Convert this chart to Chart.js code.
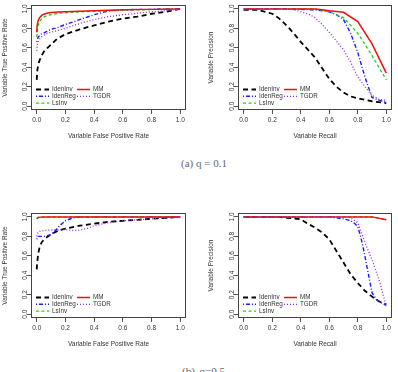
<!DOCTYPE html>
<html>
<head>
<meta charset="utf-8">
<script src="https://cdn.jsdelivr.net/npm/chart.js"></script>
<style>
  html, body { margin:0; padding:0; background:#fff; }
  body { width:398px; height:372px; position:relative; overflow:hidden; }
  canvas { position:absolute; }
  .cap { position:absolute; font-family:"Liberation Serif","DejaVu Serif",serif; font-size:11px; font-weight:400; color:#666; white-space:nowrap; line-height:12px; }
</style>
</head>
<body>
<canvas id="cA" width="198" height="150" style="left:0;top:0"></canvas>
<canvas id="cB" width="200" height="150" style="left:198px;top:0"></canvas>
<canvas id="cC" width="198" height="150" style="left:0;top:208px"></canvas>
<canvas id="cD" width="200" height="150" style="left:198px;top:208px"></canvas>
<div class="cap" id="capA" style="left:181px;top:157px"></div>
<div class="cap" id="capB" style="left:182px;top:365px;word-spacing:2px"></div>
<script>
// ---------- data ----------
const seriesNames = ['IdenInv', 'IdenReg', 'LsInv', 'MM', 'TGDR'];
const tickValues = [0, 0.2, 0.4, 0.6, 0.8, 1.0];
const captions = ['(a) q = 0.1', '(b) q=0.5'];
const xTitleROC = 'Variable False Positive Rate';
const yTitleROC = 'Variable True Positive Rate';
const xTitlePR = 'Variable Recall';
const yTitlePR = 'Variable Precision';

// (a) q = 0.1 : ROC  [false positive rate, true positive rate]
const rocA_IdenInv = [[0,0.27],[0.005,0.38],[0.015,0.45],[0.03,0.51],[0.05,0.56],[0.09,0.62],[0.14,0.69],[0.2,0.74],[0.3,0.79],[0.4,0.83],[0.5,0.87],[0.6,0.9],[0.7,0.92],[0.8,0.95],[0.9,0.97],[1.0,1.0]];
const rocA_IdenReg = [[0,0.66],[0.01,0.71],[0.03,0.74],[0.06,0.76],[0.1,0.79],[0.15,0.81],[0.2,0.84],[0.3,0.89],[0.4,0.94],[0.5,0.98],[0.6,0.99],[0.7,0.995],[0.8,0.995],[0.9,1.0],[1.0,1.0]];
const rocA_LsInv   = [[0,0.71],[0.005,0.78],[0.01,0.83],[0.02,0.87],[0.04,0.91],[0.07,0.93],[0.1,0.94],[0.15,0.955],[0.2,0.96],[0.3,0.97],[0.5,0.98],[0.7,0.99],[1.0,1.0]];
const rocA_MM      = [[0,0.76],[0.003,0.83],[0.01,0.88],[0.02,0.91],[0.04,0.94],[0.07,0.955],[0.1,0.962],[0.15,0.967],[0.2,0.97],[0.4,0.98],[0.6,0.99],[0.8,0.995],[1.0,1.0]];
const rocA_TGDR    = [[0,0.57],[0.005,0.64],[0.015,0.68],[0.03,0.71],[0.06,0.74],[0.1,0.76],[0.15,0.78],[0.2,0.8],[0.3,0.85],[0.4,0.89],[0.5,0.92],[0.6,0.94],[0.7,0.955],[0.8,0.97],[0.9,0.98],[1.0,1.0]];

// (a) q = 0.1 : precision-recall  [recall, precision]
const prA_IdenInv = [[0,0.99],[0.1,0.99],[0.2,0.95],[0.25,0.9],[0.3,0.83],[0.35,0.75],[0.4,0.66],[0.45,0.58],[0.5,0.5],[0.55,0.39],[0.6,0.28],[0.65,0.2],[0.7,0.14],[0.75,0.1],[0.8,0.08],[0.9,0.05],[1.0,0.03]];
const prA_IdenReg = [[0,1],[0.3,1],[0.4,0.995],[0.5,0.99],[0.6,0.97],[0.65,0.94],[0.7,0.89],[0.75,0.75],[0.8,0.55],[0.85,0.3],[0.9,0.09],[0.95,0.06],[1.0,0.04]];
const prA_LsInv   = [[0,1],[0.5,1],[0.6,0.97],[0.7,0.91],[0.8,0.75],[0.9,0.52],[1.0,0.27]];
const prA_MM      = [[0,1],[0.5,1],[0.55,0.99],[0.6,0.98],[0.7,0.965],[0.8,0.87],[0.9,0.64],[1.0,0.34]];
const prA_TGDR    = [[0,1],[0.3,1],[0.35,0.99],[0.4,0.97],[0.45,0.95],[0.5,0.91],[0.55,0.84],[0.6,0.76],[0.65,0.67],[0.7,0.58],[0.75,0.45],[0.8,0.3],[0.85,0.2],[0.9,0.11],[0.95,0.07],[1.0,0.06]];

// (b) q = 0.5 : ROC
const rocB_IdenInv = [[0,0.46],[0.003,0.53],[0.01,0.62],[0.02,0.69],[0.035,0.74],[0.06,0.78],[0.1,0.82],[0.15,0.86],[0.2,0.88],[0.3,0.91],[0.4,0.93],[0.5,0.95],[0.6,0.96],[0.7,0.97],[0.8,0.98],[0.9,0.99],[1.0,1.0]];
const rocB_IdenReg = [[0,0.77],[0.01,0.8],[0.03,0.8],[0.06,0.8],[0.1,0.82],[0.13,0.86],[0.16,0.91],[0.2,0.96],[0.25,0.99],[0.3,1.0],[0.4,1.0],[1.0,1.0]];
const rocB_LsInv   = [[0,0.98],[0.01,0.995],[0.05,1.0],[1.0,1.0]];
const rocB_MM      = [[0,0.98],[0.01,0.995],[0.05,1.0],[1.0,1.0]];
const rocB_TGDR    = [[0,0.8],[0.005,0.83],[0.015,0.85],[0.03,0.855],[0.06,0.86],[0.1,0.865],[0.15,0.865],[0.2,0.87],[0.25,0.86],[0.3,0.865],[0.35,0.88],[0.4,0.91],[0.5,0.94],[0.6,0.96],[0.7,0.97],[0.8,0.98],[0.9,0.99],[1.0,1.0]];

// (b) q = 0.5 : precision-recall
const prB_IdenInv = [[0,1],[0.25,1],[0.3,0.99],[0.35,0.985],[0.4,0.975],[0.45,0.93],[0.5,0.89],[0.55,0.84],[0.6,0.77],[0.65,0.65],[0.7,0.53],[0.75,0.41],[0.8,0.32],[0.85,0.24],[0.9,0.18],[0.95,0.13],[1.0,0.1]];
const prB_IdenReg = [[0,1],[0.6,1],[0.7,0.98],[0.75,0.96],[0.78,0.93],[0.8,0.9],[0.82,0.8],[0.84,0.67],[0.86,0.52],[0.88,0.37],[0.9,0.22],[0.93,0.15],[0.96,0.12],[1.0,0.09]];
const prB_LsInv   = [[0,1],[0.9,1],[1.0,0.97]];
const prB_MM      = [[0,1],[0.9,1],[1.0,0.97]];
const prB_TGDR    = [[0,1],[0.7,1],[0.75,0.99],[0.8,0.94],[0.83,0.82],[0.86,0.7],[0.9,0.56],[0.95,0.35],[1.0,0.08]];

// ---------- styles ----------
const FONT = '"Liberation Sans", Arial, Helvetica, sans-serif';
const TXT = '#333';
const styles = [
  { borderColor:'#000000', borderWidth:1.8, borderDash:[5,3.5], order:4 },
  { borderColor:'#1a1aff', borderWidth:1.4, borderDash:[1,2,4,2], order:3 },
  { borderColor:'#22cc22', borderWidth:1.3, borderDash:[3,2.5], order:2 },
  { borderColor:'#ee1111', borderWidth:1.5, borderDash:[], order:1 },
  { borderColor:'#a020f0', borderWidth:1.3, borderDash:[1,2], order:0 }
];

function makeDatasets(list) {
  return list.map((pts, i) => Object.assign({
    label: seriesNames[i],
    data: pts.map(p => ({ x: p[0], y: p[1] })),
    pointRadius: 0, fill: false, tension: 0, clip: false
  }, styles[i]));
}

const boxPlugin = {
  id: 'rbox',
  afterDraw(chart) {
    const { ctx, chartArea: a } = chart;
    ctx.save();
    ctx.strokeStyle = '#444';
    ctx.lineWidth = 1;
    ctx.setLineDash([]);
    ctx.strokeRect(Math.round(a.left) + 0.5, Math.round(a.top) + 0.5,
                   Math.round(a.right - a.left) - 1, Math.round(a.bottom - a.top) - 1);
    ctx.restore();
  }
};

const insideLegend = {
  id: 'insideLegend',
  afterDraw(chart) {
    const { ctx, chartArea: a } = chart;
    const ds = chart.data.datasets;
    ctx.save();
    ctx.font = '6.3px ' + FONT;
    ctx.textBaseline = 'middle';
    ctx.textAlign = 'left';
    ds.forEach((d, i) => {
      const col = i < 3 ? 0 : 1;
      const row = i < 3 ? i : i - 3;
      const x0 = a.left + (col ? 46 : 5);
      const y = a.bottom - 20.5 + row * 6.8;
      ctx.strokeStyle = d.borderColor;
      ctx.lineWidth = d.borderWidth;
      ctx.setLineDash(d.borderDash || []);
      ctx.beginPath(); ctx.moveTo(x0, y); ctx.lineTo(x0 + 13, y); ctx.stroke();
      ctx.setLineDash([]);
      ctx.fillStyle = TXT;
      ctx.fillText(d.label, x0 + 16, y);
    });
    ctx.restore();
  }
};

function setTicks(s) { s.ticks = tickValues.map(v => ({ value: v })); }

function makeChart(id, lists, xTitle, yTitle, g) {
  return new Chart(document.getElementById(id), {
    type: 'line',
    data: { datasets: makeDatasets(lists) },
    plugins: [boxPlugin, insideLegend],
    options: {
      responsive: false, animation: false, devicePixelRatio: 1,
      layout: { padding: { top: g.top, right: g.right, left: 0, bottom: 0 } },
      plugins: { legend: { display: false }, tooltip: { enabled: false } },
      scales: {
        x: {
          type: 'linear', min: -0.04, max: 1.04,
          afterBuildTicks: setTicks,
          afterFit: s => { s.height = g.xh; },
          border: { display: false },
          grid: { display: true, drawOnChartArea: false, drawTicks: true, tickLength: 4, color: '#555' },
          ticks: { autoSkip: false, maxRotation: 0, color: TXT, padding: g.xtp,
                   font: { size: 6.5, family: FONT }, callback: v => v.toFixed(1) },
          title: { display: true, text: xTitle, color: TXT, font: { size: 6.5, family: FONT },
                   padding: { top: 0, bottom: g.xtb } }
        },
        y: {
          type: 'linear', min: -0.04, max: 1.04,
          afterBuildTicks: setTicks,
          afterFit: s => { s.width = g.yw; },
          border: { display: false },
          grid: { display: true, drawOnChartArea: false, drawTicks: true, tickLength: 4, color: '#555' },
          ticks: { autoSkip: false, minRotation: 90, maxRotation: 90, crossAlign: 'center',
                   color: TXT, padding: g.ytp, font: { size: 6.5, family: FONT },
                   callback: v => v.toFixed(1) },
          title: { display: true, text: yTitle, color: TXT, font: { size: 6.5, family: FONT },
                   padding: { top: g.ytt, bottom: 0 } }
        }
      }
    }
  });
}

const gLeft  = { top: 5, right: 12, xh: 40, yw: 31, xtp: 2, xtb: 10, ytp: -2.5, ytt: 1 };
const gRight = { top: 5, right: 6,  xh: 40, yw: 40, xtp: 2, xtb: 10, ytp: -2.5, ytt: 9 };

makeChart('cA', [rocA_IdenInv, rocA_IdenReg, rocA_LsInv, rocA_MM, rocA_TGDR], xTitleROC, yTitleROC, gLeft);
makeChart('cB', [prA_IdenInv, prA_IdenReg, prA_LsInv, prA_MM, prA_TGDR], xTitlePR, yTitlePR, gRight);
makeChart('cC', [rocB_IdenInv, rocB_IdenReg, rocB_LsInv, rocB_MM, rocB_TGDR], xTitleROC, yTitleROC, gLeft);
makeChart('cD', [prB_IdenInv, prB_IdenReg, prB_LsInv, prB_MM, prB_TGDR], xTitlePR, yTitlePR, gRight);

document.getElementById('capA').textContent = captions[0];
document.getElementById('capB').textContent = captions[1];
</script>
</body>
</html>
